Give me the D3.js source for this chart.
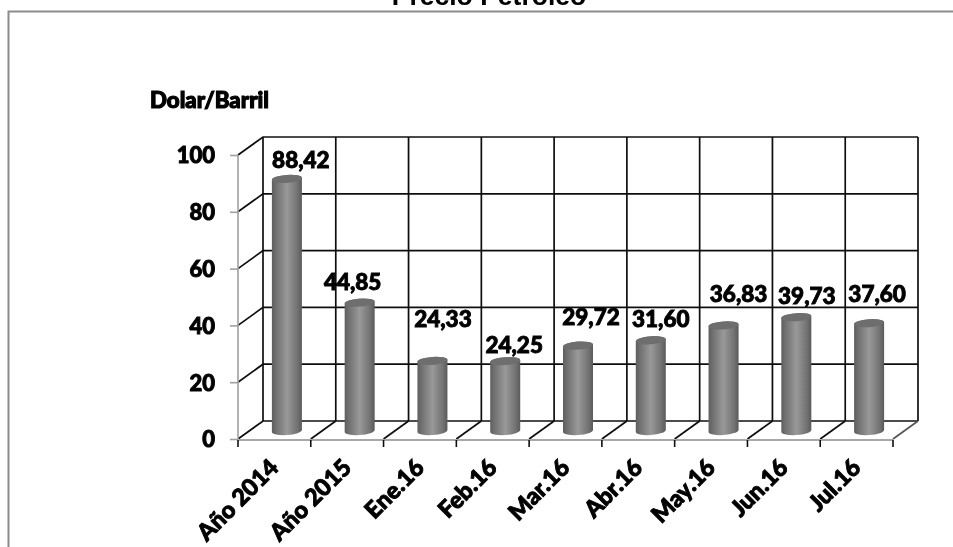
<!DOCTYPE html>
<html><head><meta charset="utf-8">
<script src="https://cdnjs.cloudflare.com/ajax/libs/d3/7.8.5/d3.min.js"></script>
<style>html,body{margin:0;padding:0;background:#fff;overflow:hidden}svg{display:block}
text{font-family:Lato,"Open Sans",sans-serif;font-weight:900;fill:#000}</style></head>
<body><script>
const categories = ["Año 2014","Año 2015","Ene.16","Feb.16","Mar.16","Abr.16","May.16","Jun.16","Jul.16"];
const prices = [88.42,44.85,24.33,24.25,29.72,31.60,36.83,39.73,37.60];
const priceLabels = ["88,42","44,85","24,33","24,25","29,72","31,60","36,83","39,73","37,60"];
const yTicks = [0,20,40,60,80,100];
const titleText = "Precio Petroleo";
const unitText = "Dolar/Barril";

const labelDx = [14,-7,10.5,9,13,10,15,10.5,8];
const labelDy = [-11,-13,-34,-8,-21,-13,-23,-13,-21];

const W=953,H=547, dx=25, dy=-18;
const svg=d3.select("body").append("svg").attr("width",W).attr("height",H);
const defs=svg.append("defs");
const grad=defs.append("linearGradient").attr("id","cyl");
[[0,"#5e5e5e"],[.12,"#6e6e6e"],[.5,"#999999"],[.85,"#727272"],[1,"#5a5a5a"]].forEach(s=>grad.append("stop").attr("offset",s[0]).attr("stop-color",s[1]));
const f=defs.append("filter").attr("id","soft");f.append("feGaussianBlur").attr("stdDeviation",0.55);
const g=svg.append("g").attr("filter","url(#soft)");

const x=d3.scaleBand().domain(categories).range([238,893]);
const y=d3.scaleLinear().domain([0,100]).range([439,155]);

// frame
g.append("path").attr("d",`M8.5 547V11.5H953`).attr("fill","none").attr("stroke","#8c8c8c").attr("stroke-width",2);

// title + unit
g.append("text").attr("x",489).attr("y",5).attr("text-anchor","middle")
 .style("font-family","'Liberation Sans'").style("font-weight",700).style("font-size","26.5px").text(titleText);
g.append("text").attr("x",150).attr("y",108).style("font-size","22px").attr("stroke","#000").attr("stroke-width",1.1).attr("textLength",119).attr("lengthAdjust","spacingAndGlyphs").text(unitText);

// walls: horizontal gridlines on the back wall and the side wall
const xEdges=[...categories.map(c=>x(c)),x.range()[1]];
const grid=g.append("g").attr("fill","none").attr("stroke","#111").attr("stroke-width",1.7);
yTicks.forEach(t=>{
  grid.append("path").attr("d",`M${x.range()[0]} ${y(t)}l${dx} ${dy}H${x.range()[1]+dx}`);
});
// vertical back-wall lines + floor diagonals
xEdges.forEach((e,i)=>{
  grid.append("path").attr("d",`M${e+dx} ${y(100)+dy}V${y(0)+dy}`);
  if(i>0) grid.append("path").attr("d",`M${e} ${y(0)}l${dx} ${dy}`).attr("stroke",i===xEdges.length-1?"#555":"#111");
});

// axes
const yAxis=d3.axisLeft(y).tickValues(yTicks).tickSize(8).tickPadding(15).tickFormat(d3.format("d"));
const ya=g.append("g").attr("transform",`translate(${x.range()[0]},0)`).call(yAxis);
ya.selectAll("path,line").attr("stroke","#a0a0a0").attr("stroke-width",1.6);
ya.select(".domain").attr("d",`M0 ${y(100)}V${y(0)}`);
ya.selectAll("text").style("font-size","22px").attr("stroke","#000").attr("stroke-width",.9).attr("fill","#000").attr("dy","0.36em");

const xa=g.append("g").attr("transform",`translate(0,${y(0)+1})`).call(d3.axisBottom(x).tickSize(7).tickFormat(""));
xa.select(".domain").attr("d",`M${x.range()[0]} 0H${x.range()[1]}`).attr("stroke","#a8a8a8").attr("stroke-width",2);
xa.selectAll(".tick").attr("transform",d=>`translate(${x(d)},0)`);
xa.selectAll(".tick line").attr("stroke","#111").attr("stroke-width",1.6);
xa.append("g").attr("transform",`translate(${x.range()[1]},0)`).append("line").attr("y2",7).attr("stroke","#111").attr("stroke-width",1.6);
g.selectAll(".xlab").data(categories).join("text").attr("class","xlab")
 .attr("transform",d=>`translate(${x(d)+42},${y(0)+30}) rotate(-45)`)
 .attr("text-anchor","end").attr("stroke","#000").attr("stroke-width",.9)
 .style("font-size","23.5px").text(d=>d);

// cylinders
const yv=v=>y(v)+dy/2;
const cx=c=>x(c)+x.bandwidth()/2+dx/2;
const rx=15, ry=4;
const bars=g.selectAll(".bar").data(categories.map((c,i)=>({c,v:prices[i],i}))).join("g").attr("class","bar");
bars.append("path").attr("fill","url(#cyl)").attr("d",d=>{
  const X=cx(d.c),T=yv(d.v),B=yv(0);
  return `M${X-rx} ${T+1}L${X-rx} ${B+2}A${rx} ${ry} -4 0 0 ${X+rx} ${B}L${X+rx} ${T-1}A${rx} ${ry} -4 0 0 ${X-rx} ${T+1}Z`;
});
bars.append("ellipse").attr("cx",d=>cx(d.c)).attr("cy",d=>yv(d.v)).attr("rx",rx).attr("ry",ry)
 .attr("transform",d=>`rotate(-4 ${cx(d.c)} ${yv(d.v)})`).attr("fill","#6e6e6e");

// value labels
g.selectAll(".vlab").data(categories).join("text").attr("class","vlab")
 .attr("x",(d,i)=>cx(d)+labelDx[i]).attr("y",(d,i)=>yv(prices[i])+labelDy[i])
 .attr("text-anchor","middle").attr("stroke","#000").attr("stroke-width",.9)
 .style("font-size","22.5px").text((d,i)=>priceLabels[i]);
</script></body></html>
